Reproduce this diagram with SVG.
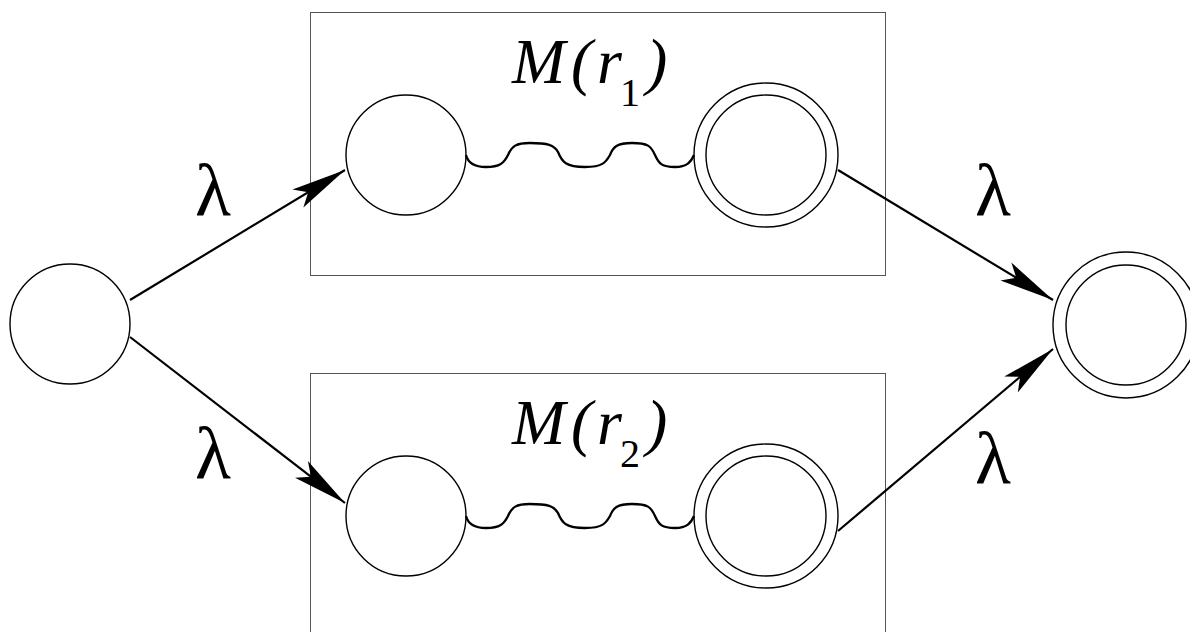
<svg xmlns="http://www.w3.org/2000/svg" width="1190" height="632" viewBox="0 0 1190 632" font-family="Liberation Serif, serif">
  <style>
    .box { fill: none; stroke: #555; stroke-width: 1; }
    .state { fill: #fff; stroke: #000; stroke-width: 1.4; }
    .edge { fill: none; stroke: #000; stroke-width: 2.2; }
    .wave { fill: none; stroke: #000; stroke-width: 2.3; }
  </style>
  <defs>
    <marker id="ah" viewBox="-57 -12 59 24" refX="0" refY="0" markerWidth="59" markerHeight="24" markerUnits="userSpaceOnUse" orient="auto">
      <path d="M0,0 L-55,-10.5 L-43,0 L-55,10.5 Z" fill="#000"/>
    </marker>
    <path id="wave" d="M466,155 C468,163 474,167 486,167 C500,167 504,163 508,155 C512,146 516,143 530,143 C548,143 554,145 558,152 C562,162 566,167 585,167 C603,167 606,162 610,155 C613,147 617,143 632,143 C648,143 651,146 655,155 C659,164 662,167 675,167 C687,167 691,162 694,155"/>
  </defs>
  <rect width="1190" height="632" fill="#fff"/>

  <!-- machine for r1 -->
  <g id="machine-r1">
    <rect class="box" x="310.5" y="12.5" width="575" height="263"/>
    <text x="512" y="83" font-family="Liberation Serif" font-size="64" font-style="italic">M</text>
    <text x="571" y="83" font-family="Liberation Serif" font-size="64" font-style="italic">(</text>
    <text x="597" y="83" font-family="Liberation Serif" font-size="64" font-style="italic">r</text>
    <text x="620" y="106" font-family="Liberation Serif" font-size="40">1</text>
    <text x="646" y="83" font-family="Liberation Serif" font-size="64" font-style="italic">)</text>
    <circle id="r1-start" class="state" cx="406" cy="155" r="60"/>
    <g id="r1-final">
      <circle class="state" cx="766" cy="155" r="72"/>
      <circle class="state" cx="766" cy="155" r="60"/>
    </g>
  </g>

  <!-- machine for r2 -->
  <g id="machine-r2">
    <rect class="box" x="310.5" y="373.5" width="575" height="270"/>
    <text x="512" y="444" font-family="Liberation Serif" font-size="64" font-style="italic">M</text>
    <text x="571" y="444" font-family="Liberation Serif" font-size="64" font-style="italic">(</text>
    <text x="597" y="444" font-family="Liberation Serif" font-size="64" font-style="italic">r</text>
    <text x="620" y="467" font-family="Liberation Serif" font-size="40">2</text>
    <text x="646" y="444" font-family="Liberation Serif" font-size="64" font-style="italic">)</text>
    <circle id="r2-start" class="state" cx="406" cy="516" r="60"/>
    <g id="r2-final">
      <circle class="state" cx="766" cy="516" r="72"/>
      <circle class="state" cx="766" cy="516" r="60"/>
    </g>
  </g>

  <!-- new start state -->
  <g id="start">
    <circle class="state" cx="70" cy="324" r="60"/>
  </g>

  <!-- new accepting state -->
  <g id="final">
    <circle class="state" cx="1126" cy="325" r="73"/>
    <circle class="state" cx="1126" cy="325" r="60"/>
  </g>

  <g id="connectors">
    <use href="#wave" class="wave"/>
    <use href="#wave" class="wave" transform="translate(0,361)"/>
    <line class="edge" x1="130" y1="300" x2="345" y2="170" marker-end="url(#ah)"/>
    <line class="edge" x1="130" y1="337" x2="345" y2="503" marker-end="url(#ah)"/>
    <line class="edge" x1="838" y1="170" x2="1053" y2="300" marker-end="url(#ah)"/>
    <line class="edge" x1="838" y1="531" x2="1053" y2="349" marker-end="url(#ah)"/>
    <text x="195" y="215" font-family="Liberation Serif" font-size="74">λ</text>
    <text x="195" y="478" font-family="Liberation Serif" font-size="74">λ</text>
    <text x="975" y="215" font-family="Liberation Serif" font-size="74">λ</text>
    <text x="975" y="483" font-family="Liberation Serif" font-size="74">λ</text>
  </g>
</svg>
